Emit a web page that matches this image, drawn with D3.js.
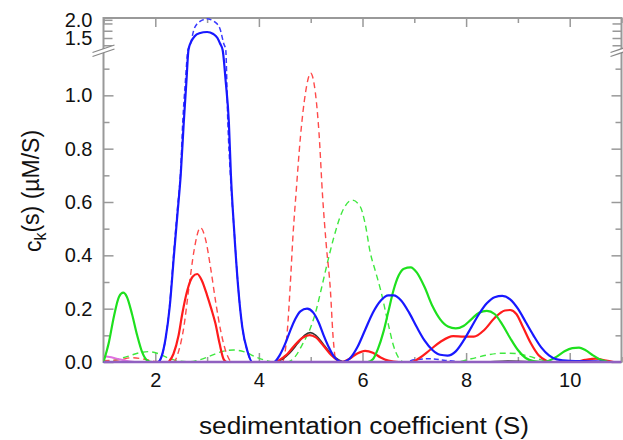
<!DOCTYPE html>
<html>
<head>
<meta charset="utf-8">
<script src="https://cdn.jsdelivr.net/npm/d3@7/dist/d3.min.js"></script>
<style>
body { margin: 0; background: #fff; }
svg text { font-family: "Liberation Sans", Arial, sans-serif; fill: #111; }
.axis path { stroke: none; }
.axis line { stroke: #999; stroke-width: 1.5; }
</style>
</head>
<body>
<div id="chart"></div>
<script>
// c(s) distributions, [s, c] pairs
var blueSolid = [[1.0,0],[2.05,0],[2.12,0.02],[2.2,0.09],[2.28,0.21],[2.36,0.4],[2.43,0.56],[2.49,0.7],[2.55,0.9],[2.6,1.05],[2.64,1.17],[2.7,1.42],[2.76,1.55],[2.85,1.63],[3.0,1.665],[3.12,1.61],[3.2,1.5],[3.25,1.35],[3.3,1.17],[3.36,1.05],[3.42,0.9],[3.46,0.7],[3.52,0.5],[3.6,0.28],[3.68,0.13],[3.78,0.04],[3.87,0],
    [4.29,0],[4.4,0.025],[4.5,0.065],[4.6,0.115],[4.7,0.16],[4.8,0.19],[4.93,0.2],[5.05,0.185],[5.15,0.15],[5.25,0.1],[5.35,0.055],[5.45,0.02],[5.55,0.003],[5.62,0],
    [5.75,0.012],[5.9,0.055],[6.05,0.12],[6.2,0.185],[6.35,0.23],[6.5,0.25],[6.6,0.25],[6.75,0.23],[6.9,0.185],[7.05,0.13],[7.2,0.08],[7.35,0.045],[7.5,0.027],[7.64,0.024],
    [7.8,0.04],[7.95,0.08],[8.1,0.13],[8.25,0.18],[8.4,0.22],[8.55,0.243],[8.7,0.248],[8.85,0.235],[9.0,0.2],[9.15,0.15],[9.3,0.1],[9.45,0.055],[9.6,0.025],[9.75,0.01],[10.0,0.004],[10.5,0.002],[10.7,0]];

var blueDashed = [[1.0,0],[2.05,0],[2.12,0.02],[2.2,0.09],[2.28,0.22],[2.36,0.42],[2.43,0.58],[2.49,0.72],[2.53,0.9],[2.58,1.05],[2.63,1.17],[2.68,1.35],[2.75,1.75],[2.84,1.93],[2.92,2.0],[3.0,2.03],[3.08,2.0],[3.16,1.93],[3.25,1.75],[3.32,1.35],[3.36,1.17],[3.4,0.9],[3.45,0.7],[3.52,0.5],[3.6,0.28],[3.68,0.13],[3.78,0.04],[3.87,0],
    [6.8,0],[7.0,0.008],[7.3,0.012],[7.6,0.006],[7.9,0]];

var redSolid = [[2.26,0],[2.35,0.03],[2.45,0.1],[2.52,0.18],[2.62,0.27],[2.72,0.32],[2.81,0.33],[2.9,0.305],[3.0,0.25],[3.08,0.2],[3.16,0.145],[3.24,0.07],[3.32,0.01],[3.38,0],
    [4.3,0],[4.4,0.008],[4.55,0.03],[4.7,0.065],[4.85,0.092],[4.98,0.101],[5.1,0.092],[5.25,0.06],[5.4,0.025],[5.52,0.006],[5.6,0],
    [5.75,0.012],[5.9,0.032],[6.05,0.042],[6.2,0.035],[6.35,0.017],[6.5,0.005],[6.7,0],
    [6.95,0],[7.1,0.015],[7.3,0.045],[7.5,0.075],[7.75,0.097],[7.95,0.095],[8.15,0.095],[8.35,0.12],[8.55,0.165],[8.75,0.193],[8.85,0.195],[8.97,0.18],[9.1,0.13],[9.25,0.07],[9.4,0.025],[9.55,0.005],[9.65,0],
    [10.1,0],[10.3,0.008],[10.5,0.013],[10.7,0.005],[10.85,0]];

var redDashed = [[1.0,0.005],[1.3,0.008],[1.55,0.016],[1.8,0.01],[2.0,0.002],[2.3,0],
    [2.35,0],[2.45,0.04],[2.55,0.13],[2.65,0.28],[2.75,0.42],[2.87,0.504],[2.97,0.46],[3.07,0.35],[3.17,0.22],[3.27,0.11],[3.37,0.035],[3.48,0],
    [4.45,0],[4.5,0.03],[4.55,0.12],[4.6,0.27],[4.66,0.48],[4.72,0.64],[4.8,0.84],[4.9,1.01],[5.0,1.083],[5.09,1.01],[5.16,0.86],[5.23,0.62],[5.3,0.44],[5.38,0.27],[5.43,0.1],[5.48,0]];

var greenSolid = [[1.0,0.0],[1.1,0.07],[1.2,0.17],[1.3,0.245],[1.38,0.26],[1.45,0.245],[1.55,0.18],[1.65,0.1],[1.75,0.035],[1.85,0.005],[1.95,0],
    [6.1,0],[6.2,0.01],[6.3,0.05],[6.4,0.11],[6.5,0.19],[6.6,0.27],[6.7,0.325],[6.8,0.35],[6.93,0.355],[7.05,0.335],[7.2,0.28],[7.35,0.21],[7.5,0.16],[7.65,0.133],[7.8,0.126],[7.95,0.135],[8.1,0.16],[8.25,0.185],[8.4,0.192],[8.55,0.18],[8.7,0.14],[8.85,0.09],[9.0,0.045],[9.15,0.015],[9.3,0.003],[9.45,0],
    [9.6,0.005],[9.75,0.02],[9.9,0.04],[10.05,0.052],[10.18,0.054],[10.3,0.045],[10.45,0.025],[10.6,0.008],[10.75,0]];

var greenDashed = [[1.0,0],[1.2,0.006],[1.45,0.02],[1.7,0.035],[1.87,0.039],[2.05,0.032],[2.25,0.015],[2.45,0.004],[2.64,0.001],[2.85,0.008],[3.05,0.022],[3.3,0.04],[3.51,0.045],[3.72,0.038],[3.95,0.018],[4.15,0.005],[4.3,0],
    [4.55,0],[4.7,0.02],[4.85,0.07],[5.0,0.13],[5.1,0.19],[5.2,0.27],[5.32,0.37],[5.45,0.47],[5.6,0.56],[5.8,0.607],[5.95,0.585],[6.05,0.52],[6.15,0.41],[6.25,0.34],[6.35,0.27],[6.5,0.14],[6.6,0.06],[6.7,0.015],[6.8,0],
    [7.8,0],[8.1,0.012],[8.4,0.026],[8.7,0.033],[8.95,0.032],[9.2,0.022],[9.45,0.008],[9.65,0]];

var blackSolid = [[4.3,0],[4.45,0.01],[4.6,0.035],[4.75,0.07],[4.88,0.1],[4.99,0.11],[5.1,0.1],[5.25,0.065],[5.4,0.03],[5.55,0.007],[5.65,0],
    [8.3,0],[8.8,0.004],[9.3,0]];

var pinkSolid = [[1.0,0.022],[1.15,0.018],[1.3,0.01],[1.45,0.004],[1.6,0]];

var purpleSolid = [[1.0,0],[11.0,0]];

// ticks
var xTicks = [2, 4, 6, 8, 10];
var xMinorTicks = [1, 3, 5, 7, 9, 11];
var yLowTicks = [0, 0.2, 0.4, 0.6, 0.8, 1.0];
var yLowMinorTicks = [0.1, 0.3, 0.5, 0.7, 0.9, 1.1];
var yHighTicks = [1.5, 2.0];
var yHighMinorTicks = [1.3, 1.7, 1.9];

var svg_size = { width: 623, height: 440 };
var plot = { left: 103.5, right: 621.5, top: 18, bottom: 362, breakY: 50 };
var y_break = 1.17;

var svg = d3.select('#chart')
    .append('svg')
    .attr('width', svg_size.width)
    .attr('height', svg_size.height)
    .style('background', '#fff');

var x_scale = d3.scaleLinear().domain([1, 11]).range([plot.left, plot.right]);
// broken y axis: two linear pieces
var y_low = d3.scaleLinear().domain([0, y_break]).range([plot.bottom, plot.breakY]);
var y_high = d3.scaleLinear().domain([y_break, 2.05]).range([plot.breakY, plot.top]);

function y_scale(v) {
    return v <= y_break ? y_low(v) : y_high(v);
}

svg.append('clipPath')
    .attr('id', 'plot-clip')
    .append('rect')
    .attr('x', plot.left)
    .attr('y', plot.top - 1)
    .attr('width', plot.right - plot.left)
    .attr('height', plot.bottom - plot.top + 3);

// frame
svg.append('rect')
    .attr('x', plot.left)
    .attr('y', plot.top)
    .attr('width', plot.right - plot.left)
    .attr('height', plot.bottom - plot.top)
    .attr('fill', 'none')
    .attr('stroke', '#999')
    .attr('stroke-width', 2);

function addAxis(axis, tx, ty, labels) {
    var g = svg.append('g')
        .classed('axis', true)
        .attr('transform', 'translate(' + tx + ',' + ty + ')')
        .call(axis);
    g.selectAll('text').style('font-size', '20px').style('fill', '#111');
    if (!labels) g.selectAll('text').remove();
    return g;
}

// x axes, ticks pointing inward
addAxis(d3.axisBottom(x_scale).tickValues(xTicks).tickSizeInner(-9).tickSizeOuter(0).tickPadding(11).tickFormat(d3.format('d')), 0, plot.bottom, true);
addAxis(d3.axisBottom(x_scale).tickValues(xMinorTicks).tickSizeInner(-5).tickSizeOuter(0), 0, plot.bottom, false);
addAxis(d3.axisTop(x_scale).tickValues(xTicks).tickSizeInner(-9).tickSizeOuter(0), 0, plot.top, false);
addAxis(d3.axisTop(x_scale).tickValues(xMinorTicks).tickSizeInner(-5).tickSizeOuter(0), 0, plot.top, false);

// y axes, left and right
addAxis(d3.axisLeft(y_low).tickValues(yLowTicks).tickSizeInner(-10).tickSizeOuter(0).tickPadding(11).tickFormat(d3.format('.1f')), plot.left, 0, true);
addAxis(d3.axisLeft(y_low).tickValues(yLowMinorTicks).tickSizeInner(-6).tickSizeOuter(0), plot.left, 0, false);
addAxis(d3.axisLeft(y_high).tickValues(yHighTicks).tickSizeInner(-9).tickSizeOuter(0).tickPadding(11).tickFormat(d3.format('.1f')), plot.left, 0, true);
addAxis(d3.axisLeft(y_high).tickValues(yHighMinorTicks).tickSizeInner(-9).tickSizeOuter(0), plot.left, 0, false);
addAxis(d3.axisRight(y_low).tickValues(yLowTicks).tickSizeInner(-10).tickSizeOuter(0), plot.right, 0, false);
addAxis(d3.axisRight(y_low).tickValues(yLowMinorTicks).tickSizeInner(-6).tickSizeOuter(0), plot.right, 0, false);
addAxis(d3.axisRight(y_high).tickValues(yHighMinorTicks.concat([1.5])).tickSizeInner(-9).tickSizeOuter(0), plot.right, 0, false);

// break marks
[plot.left, plot.right].forEach(function(bx) {
    var by = plot.breakY + 2;
    svg.append('polygon')
        .attr('points', [[bx - 11, by + 4.5], [bx + 11, by - 3], [bx + 11, by - 7], [bx - 11, by + 0.5]].join(' '))
        .attr('fill', '#fff');
    [-2, 2].forEach(function(o) {
        svg.append('line')
            .attr('x1', bx - 11).attr('y1', by + 2.5 + o)
            .attr('x2', bx + 11).attr('y2', by - 5 + o)
            .attr('stroke', '#888')
            .attr('stroke-width', 1.3);
    });
});

// curves
var line = d3.line()
    .x(function(d) { return x_scale(d[0]); })
    .y(function(d) { return y_scale(d[1]); })
    .curve(d3.curveMonotoneX);

var curves = [
    { data: greenDashed, color: '#3fe83f', width: 1.4, dash: '6,4' },
    { data: redDashed, color: '#ff4a4a', width: 1.4, dash: '6,4' },
    { data: blueDashed, color: '#3a3aff', width: 1.5, dash: '5,3' },
    { data: blackSolid, color: '#333', width: 1.6, dash: null },
    { data: pinkSolid, color: '#e070e0', width: 2, dash: null },
    { data: redSolid, color: '#ff1c1c', width: 2.2, dash: null },
    { data: greenSolid, color: '#1ee01e', width: 2.2, dash: null },
    { data: blueSolid, color: '#1818ff', width: 2.2, dash: null },
    { data: purpleSolid, color: '#9060c0', width: 2.6, dash: null }
];

var curve_group = svg.append('g').attr('clip-path', 'url(#plot-clip)');

curve_group.selectAll('.curve')
    .data(curves)
    .enter()
    .append('path')
    .classed('curve', true)
    .attr('d', function(d) { return line(d.data); })
    .attr('fill', 'none')
    .attr('stroke', function(d) { return d.color; })
    .attr('stroke-width', function(d) { return d.width; })
    .attr('stroke-dasharray', function(d) { return d.dash; });

// axis titles
svg.append('text')
    .attr('x', 364)
    .attr('y', 434)
    .attr('text-anchor', 'middle')
    .attr('textLength', 330)
    .attr('lengthAdjust', 'spacingAndGlyphs')
    .style('font-size', '23px')
    .text('sedimentation coefficient (S)');

var y_title = svg.append('text')
    .attr('transform', 'translate(41,191) rotate(-90)')
    .attr('text-anchor', 'middle')
    .style('font-size', '23px');
y_title.append('tspan').text('c');
y_title.append('tspan').attr('dy', '0.3em').style('font-size', '16px').text('k');
y_title.append('tspan').attr('dy', '-0.3em').text('(s) (\u00b5M/S)');
</script>
</body>
</html>
